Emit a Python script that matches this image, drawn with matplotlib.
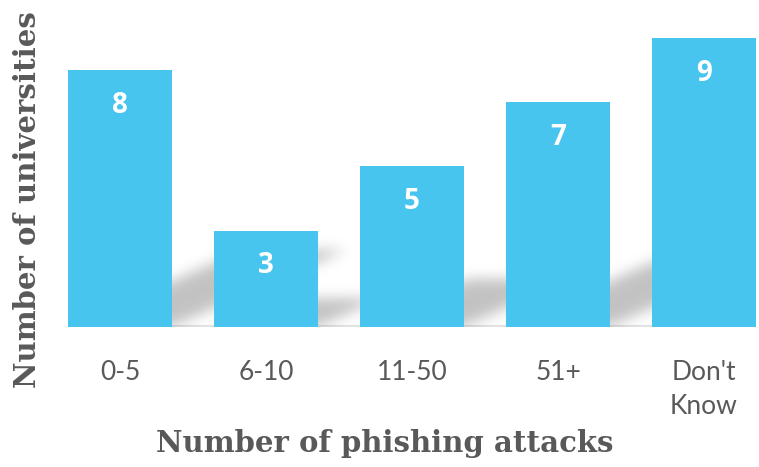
import numpy as np
import matplotlib
matplotlib.use("Agg")
import matplotlib.pyplot as plt
from matplotlib.path import Path

categories = ["0-5", "6-10", "11-50", "51+", "Don't\nKnow"]
values = [8, 3, 5, 7, 9]

BAR_COLOR = "#47C5EE"
TEXT_GRAY = "#595959"

W, H = 759, 467
fig = plt.figure(figsize=(W / 100, H / 100), dpi=100)
ax = fig.add_axes([68 / W, (H - 327) / H, (756 - 68) / W, (327 - 38) / H])

x = np.arange(len(categories))
bw = 0.712
ax.set_xlim(-0.356, len(categories) - 1 + 0.356)
ax.set_ylim(0, 9)

# soft perspective shadows derived from bar heights
xl, xr = ax.get_xlim()
nx, ny = 700, 300
gx = np.linspace(xl, xr, nx)
gy = np.linspace(0, 9, ny)
GX, GY = np.meshgrid(gx, gy)
pts = np.column_stack([GX.ravel(), GY.ravel()])
mask = np.zeros(GX.size)
for xi, v in zip(x, values):
    dy = 0.30 * v
    dx = 0.5 * dy
    poly = Path([(xi - bw / 2, 0), (xi + bw / 2, 0), (xi + bw / 2 + dx, dy),
                 (xi - bw / 2 + dx, dy), (xi - bw / 2, 0)])
    mask = np.maximum(mask, poly.contains_points(pts).astype(float))
mask = mask.reshape(ny, nx)

def blur(a, sigma, axis):
    r = int(3 * sigma)
    k = np.exp(-0.5 * (np.arange(-r, r + 1) / sigma) ** 2)
    k /= k.sum()
    return np.apply_along_axis(lambda m: np.convolve(m, k, mode="same"), axis, a)

mask = blur(mask, 7, 1)
mask = blur(mask, 7, 0)
rgba = np.zeros((ny, nx, 4))
rgba[..., 3] = mask * 0.24
ax.imshow(rgba, extent=(xl, xr, 0, 9), origin="lower", aspect="auto",
          zorder=1, interpolation="bilinear")

ax.bar(x, values, width=bw, color=BAR_COLOR, zorder=2)
for xi, v in zip(x, values):
    ax.text(xi, v - 1.1, str(v), ha="center", va="center", color="white",
            fontsize=20, fontweight="bold", family="Open Sans", zorder=3)

for s in ax.spines.values():
    s.set_visible(False)
ax.axhline(0, color="#e4e4e4", lw=3, zorder=0.5)
ax.set_yticks([])
ax.set_xticks(x)
ax.set_xticklabels(categories, fontsize=19, color=TEXT_GRAY, family="Lato",
                   linespacing=1.45)
ax.tick_params(axis="x", length=0, pad=24)

fig.text(385 / W, 1 - 443 / H, "Number of phishing attacks", ha="center",
         va="center", fontsize=21, fontweight="heavy", family="DejaVu Serif",
         color=TEXT_GRAY)
fig.text(28 / W, 1 - 200 / H, "Number of universities", ha="center",
         va="center", rotation=90, fontsize=21, fontweight="heavy",
         family="DejaVu Serif", color=TEXT_GRAY)

fig.savefig("out.png", dpi=100)
